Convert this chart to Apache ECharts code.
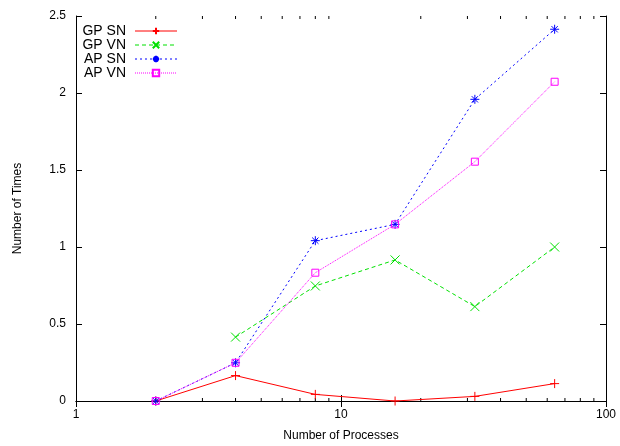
<!DOCTYPE html>
<html>
<head>
<meta charset="utf-8">
<script src="https://cdn.jsdelivr.net/npm/echarts@6/dist/echarts.min.js"></script>
<style>
  html, body { margin: 0; padding: 0; background: #fff; }
  #chart { width: 620px; height: 446px; }
</style>
</head>
<body>
<div id="chart"></div>
<script>
// data
const procs = [2, 4, 8, 16, 32, 64]
const gpSN = [0, 0.165, 0.043, 0, 0.03, 0.113]
const gpVN = [null, 0.415, 0.747, 0.916, 0.613, 1.0]
const apSN = [0, 0.248, 1.041, 1.147, 1.959, 2.414]
const apVN = [0, 0.248, 0.833, 1.147, 1.554, 2.073]
const minorTicks = [2, 3, 4, 5, 6, 7, 8, 9, 20, 30, 40, 50, 60, 70, 80, 90]
const seriesNames = ["GP SN", "GP VN", "AP SN", "AP VN"]

// marker shapes (gnuplot style)
const plusPath = "path://M0,5H10M5,0V10"
const crossPath = "path://M0,0L10,10M10,0L0,10"
const starPath = "path://M0,5H10M5,0V10M1.5,1.5L8.5,8.5M8.5,1.5L1.5,8.5"

const FONT = "'Liberation Sans', Arial, sans-serif"

const pairs = (vals) =>
  procs.map((x, i) => [x, vals[i]]).filter((p) => p[1] !== null)

const lineSeries = (name, vals, color, dash, symbol, size, hollow) => ({
  name,
  type: "line",
  data: pairs(vals),
  symbol,
  symbolSize: size,
  showAllSymbol: true,
  lineStyle: { color, width: 1, type: dash },
  itemStyle: {
    color: hollow ? "rgba(0,0,0,0)" : color,
    borderColor: color,
    borderWidth: 1,
  },
  emphasis: { disabled: true },
  z: 3,
})

const tickAxis = {
  axisLine: { show: true, lineStyle: { color: "#000", width: 1 } },
  axisTick: { show: true, inside: true, length: 6, lineStyle: { color: "#000" } },
  splitLine: { show: false },
}

const chart = echarts.init(document.getElementById("chart"))

const option = {
  animation: false,
  textStyle: { fontFamily: FONT },
  grid: { left: 76, right: 14, top: 16, bottom: 45, outerBoundsMode: "none" },
  legend: {
    data: seriesNames.map((name) => ({ name, lineStyle: { width: 1 } })),
    orient: "vertical",
    align: "right",
    left: 77,
    top: 19,
    itemWidth: 42,
    itemHeight: 8,
    itemGap: 0,
    textStyle: {
      fontSize: 14,
      lineHeight: 14,
      color: "#000",
      fontFamily: FONT,
      width: 44,
      padding: [0, 4, 0, 0],
    },
  },
  xAxis: [
    {
      type: "log",
      logBase: 10,
      min: 1,
      max: 100,
      position: "bottom",
      ...tickAxis,
      axisLabel: { fontSize: 12, color: "#000", margin: 8, fontFamily: FONT },
      name: "Number of Processes",
      nameLocation: "middle",
      nameGap: 29,
      nameTextStyle: { fontSize: 12, color: "#000", fontFamily: FONT },
    },
    {
      type: "log",
      logBase: 10,
      min: 1,
      max: 100,
      position: "top",
      ...tickAxis,
      axisLabel: { show: false },
    },
  ],
  yAxis: [
    {
      type: "value",
      min: 0,
      max: 2.5,
      interval: 0.5,
      position: "left",
      ...tickAxis,
      axisLabel: { fontSize: 12, color: "#000", margin: 10, fontFamily: FONT },
      name: "Number of Times",
      nameLocation: "middle",
      nameGap: 52,
      nameTextStyle: { fontSize: 12, color: "#000", fontFamily: FONT },
    },
    {
      type: "value",
      min: 0,
      max: 2.5,
      interval: 0.5,
      position: "right",
      ...tickAxis,
      axisLabel: { show: false },
    },
  ],
  series: [
    lineSeries("GP SN", gpSN, "#ff0000", "solid", plusPath, 9),
    lineSeries("GP VN", gpVN, "#00e000", [4, 3], crossPath, 9),
    lineSeries("AP SN", apSN, "#0000ff", [2, 3], starPath, 9),
    lineSeries("AP VN", apVN, "#ff00ff", [1, 1], "rect", 7, true),
    {
      // minor log ticks on bottom and top edges
      type: "custom",
      silent: true,
      clip: false,
      data: minorTicks.map((v) => [v, 0]),
      renderItem: (params, api) => {
        const b = api.coord([api.value(0), 0])
        const t = api.coord([api.value(0), 2.5])
        return {
          type: "group",
          children: [
            { type: "line", shape: { x1: b[0], y1: b[1], x2: b[0], y2: b[1] - 3 }, style: { stroke: "#000", lineWidth: 1 } },
            { type: "line", shape: { x1: t[0], y1: t[1], x2: t[0], y2: t[1] + 3 }, style: { stroke: "#000", lineWidth: 1 } },
          ],
        }
      },
    },
  ],
}

chart.setOption(option)
</script>
</body>
</html>
